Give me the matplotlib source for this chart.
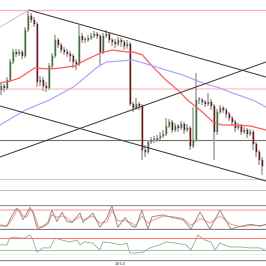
import matplotlib
matplotlib.use("Agg")
import matplotlib.pyplot as plt
import numpy as np

# ==============
# 1. Price data (daily candles)
# ==============
close = [104, 102, 110, 128, 138, 136, 138, 134, 160, 174,
         170, 166, 108, 110, 104, 102, 124, 134, 150, 145,
         140, 138, 136, 134, 128, 126, 154, 150, 150, 152,
         154, 156, 154, 138, 154, 156, 150, 148, 146, 150,
         148, 144, 146, 86, 82, 86, 84, 40, 38, 48,
         50, 50, 52, 54, 56, 64, 68, 60, 64, 62,
         66, 60, 62, 44, 50, 90, 90, 88, 86, 88,
         84, 58, 78, 82, 80, 76, 72, 68, 62, 64,
         58, 60, 56, 58, 46, 38, 30, 24]
high = [107, 106, 113, 131, 141, 141, 141, 140, 163, 180,
        177, 173, 168, 114, 113, 108, 127, 137, 155, 152,
        147, 143, 141, 139, 136, 131, 165, 157, 153, 155,
        157, 159, 158, 156, 157, 160, 158, 152, 151, 153,
        152, 150, 150, 148, 88, 92, 88, 86, 45, 50,
        53, 54, 55, 58, 60, 72, 71, 70, 67, 66,
        69, 68, 66, 64, 83, 117, 93, 92, 90, 97,
        91, 86, 81, 85, 84, 82, 78, 74, 70, 67,
        66, 63, 62, 61, 60, 48, 40, 33]
low = [95, 98, 100, 108, 126, 133, 134, 131, 132, 158,
       167, 163, 103, 104, 99, 98, 100, 121, 132, 142,
       137, 135, 133, 128, 122, 120, 124, 147, 147, 148,
       150, 152, 151, 125, 136, 152, 147, 144, 142, 144,
       143, 140, 141, 84, 78, 80, 80, 30, 33, 36,
       46, 47, 48, 50, 52, 54, 62, 57, 58, 58,
       60, 56, 58, 40, 42, 48, 86, 85, 83, 84,
       80, 30, 55, 76, 77, 72, 69, 64, 58, 60,
       55, 56, 52, 54, 40, 33, 25, 15]
first_open = 100
opn = [first_open] + close[:-1]

# moving averages
ma_fast_x = [-0.5, 3, 6, 11, 16, 19.5, 24.5, 26, 33, 37, 42, 44, 47, 50.5, 54.8, 59.5, 62, 67, 70.5, 73.5, 78, 83, 88.2]
ma_fast = [107, 109, 112, 122, 121, 122, 124, 127, 137, 140, 138, 138, 135, 123, 110, 98, 90, 78, 68, 65, 65, 64, 60]
ma_slow_x = [-0.5, 8, 16, 24, 32, 35, 44, 49.5, 54.8, 60.5, 66.2, 72.8, 77, 83.8, 88.2]
ma_slow = [65, 80, 90, 103, 123, 128, 130, 125, 120, 115, 108, 102, 97, 90, 83]

# trend lines and levels
upper_line_x, upper_line_y = [9.2, 88.2], [180, 113]
lower_line_x, lower_line_y = [-0.5, 88.2], [84, 9]
rising_line_x, rising_line_y = [-0.5, 88.2], [33, 128]
faint_line_x, faint_line_y = [-0.5, 9.2], [163, 180]
resist_top = 180
resist_mid = 101
support = 50
support_low = 11

# stochastic
stoch_x = [-0.5, 1.8, 2.8, 4.5, 5.2, 6.2, 7.2, 8.5, 9.5, 10.5, 11.8, 12.2, 13.8, 15.5, 16.8, 18.5, 20.2,
           21.8, 23.5, 26.2, 27.2, 30.5, 32.8, 35.2, 36.8, 38.8, 41.2, 43.5, 44.8, 46.8, 48.8, 50.2,
           53.8, 57.2, 60.5, 63.2, 66.2, 69.5, 72.8, 76.5, 79.8, 83.2, 86.2, 88.2]
stoch_k = [13, 12, 40, 80, 88, 68, 40, 68, 92, 68, 8, 0, 12, 28, 80, 32, 72,
           32, 28, 68, 28, 68, 8, 48, 100, 8, 48, 12, 8, 80, 0, 52,
           60, 48, 40, 0, 72, 0, 80, 0, 12, 20, 12, 20]
stoch_d = [18, 14, 28, 62, 82, 76, 55, 52, 80, 78, 30, 10, 8, 20, 60, 50, 55,
           48, 30, 52, 40, 55, 25, 30, 80, 35, 35, 25, 15, 55, 25, 35,
           55, 52, 45, 15, 45, 25, 55, 20, 10, 15, 15, 18]

# RSI
rsi_x = [-0.5, 1.8, 2.8, 4.5, 6.2, 7.8, 9.5, 10.5, 11.8, 13.8, 16.2, 17.8, 20.2, 22.8, 25.2, 26.2,
         27.8, 30.5, 32.8, 33.8, 37.2, 39.5, 41.8, 42.8, 44.8, 47.2, 49.5, 52.8, 54.8, 58.2, 61.5,
         63.2, 65.5, 67.8, 69.8, 71.2, 72.8, 76.2, 79.5, 82.8, 86.2, 87.8]
rsi = [47, 47, 70, 73, 70, 70, 80, 63, 23, 37, 37, 70, 63, 57, 63, 47,
       57, 53, 30, 57, 53, 47, 53, 20, 20, 23, 37, 47, 57, 53, 47,
       30, 80, 63, 57, 30, 53, 40, 40, 37, 37, 30]

year_tick_x = 39.5
year_tick_label = "2014"

# =======================
# 2. Figure layout (pixel based, 266x266)
# =======================
H = 266.0
fig = plt.figure(figsize=(2.66, 2.66), dpi=100)
fig.patch.set_facecolor("white")

def panel(top, bottom):
    a = fig.add_axes([0, 1 - bottom / H, 1, (bottom - top) / H])
    a.set_xlim(-0.5, 88.2)
    a.set_xticks([])
    a.set_yticks([])
    for s in a.spines.values():
        s.set_visible(False)
    return a

ax = panel(0, 191)
ax.set_ylim(-1, 190)

# candles
x = np.arange(len(close))
ax.vlines(x, low, high, color="#b0b0b0", lw=1.3, zorder=2)
up = [c >= o for o, c in zip(opn, close)]
bottoms = [min(o, c) for o, c in zip(opn, close)]
heights = [max(abs(c - o), 0.8) for o, c in zip(opn, close)]
colors = ["#3a753a" if u else "#6e1414" for u in up]
ax.bar(x, heights, bottom=bottoms, width=0.4, color=colors, edgecolor=colors, lw=0.3, zorder=3)

ax.plot(ma_fast_x, ma_fast, color="#ff5a5a", lw=0.9, zorder=4)
ax.plot(ma_slow_x, ma_slow, color="#a0a0ff", lw=0.8, zorder=4)

ax.axhline(resist_top, color="#ffb4b4", lw=0.9, zorder=1)
ax.axhline(resist_mid, color="#ffd0d0", lw=1.2, zorder=1)
ax.axhline(support, color="#707070", lw=0.8, zorder=1)
ax.axhline(support_low, color="#c8dac8", lw=0.8, zorder=1)
ax.axhline(-0.5, color="#b4b4b4", lw=2.0, zorder=1)

ax.plot(upper_line_x, upper_line_y, color="#3c3c3c", lw=0.75, zorder=5)
ax.plot(lower_line_x, lower_line_y, color="#3c3c3c", lw=0.75, zorder=5)
ax.plot(rising_line_x, rising_line_y, color="#3c3c3c", lw=0.75, zorder=5)
ax.plot(faint_line_x, faint_line_y, color="#c0c0c0", lw=0.7, zorder=5)

# stochastic panel
ax2 = panel(205, 229.5)
ax2.axhline(100, color="#909090", lw=0.9)
ax2.axhline(80, color="#ffbcbc", lw=1.2)
ax2.axhline(0, color="#808080", lw=0.9)
ax2.plot(stoch_x, stoch_d, color="#ff9a9a", lw=0.8)
ax2.plot(stoch_x, stoch_k, color="#909090", lw=0.7)
ax2.set_ylim(-2, 102)

# RSI panel
ax3 = panel(233, 255)
ax3.set_ylim(13.3, 86.7)
ax3.axhline(70, color="#ff7a7a", lw=0.8)
ax3.axhline(30, color="#9ad49a", lw=0.8)
ax3.axhline(13.6, color="#808080", lw=0.9)
ax3.plot(rsi_x, rsi, color="#a0a0a0", lw=0.6)

# date axis
ax4 = panel(259.5, 266)
ax4.set_ylim(0, 1)
ax4.axhline(1, color="#909090", lw=1.0)
ax4.text(year_tick_x, 0.35, year_tick_label, fontsize=3.2, color="#444444",
         ha="center", va="center", transform=ax4.get_xaxis_transform())

fig.savefig("out.png", dpi=100, facecolor="white")
